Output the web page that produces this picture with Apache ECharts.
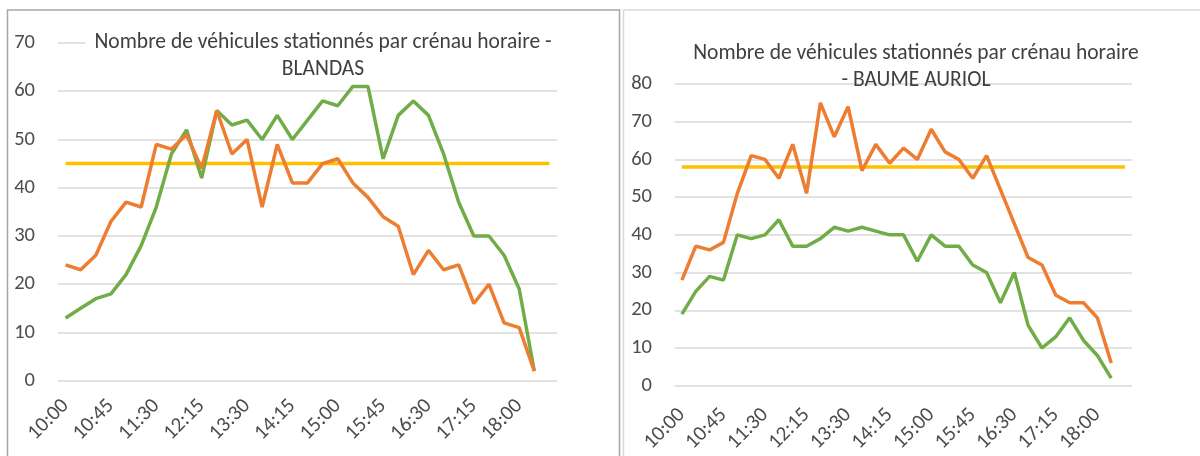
<!DOCTYPE html>
<html>
<head>
<meta charset="utf-8">
<title>Véhicules stationnés</title>
<script src="https://cdn.jsdelivr.net/npm/echarts@6/dist/echarts.min.js"></script>
<style>
  html, body { margin: 0; padding: 0; background: #fff; }
  #chart { width: 1200px; height: 456px; }
</style>
</head>
<body>
<div id="chart"></div>
<script>
// créneaux horaires (33 catégories, une étiquette sur trois)
var creneaux = ['10:00', '10:15', '10:30', '10:45', '11:00', '11:15', '11:30', '11:45', '12:00', '12:15',
  '12:30', '13:00', '13:30', '13:45', '14:00', '14:15', '14:30', '14:45', '15:00', '15:15',
  '15:30', '15:45', '16:00', '16:15', '16:30', '16:45', '17:00', '17:15', '17:30', '17:45',
  '18:00', '18:15', '18:30']

// BLANDAS
var blandasVert = [13, 15, 17, 18, 22, 28, 36, 47, 52, 42, 56, 53, 54, 50, 55, 50, 54, 58, 57, 61,
  61, 46, 55, 58, 55, 47, 37, 30, 30, 26, 19, 2]
var blandasOrange = [24, 23, 26, 33, 37, 36, 49, 48, 51, 44, 56, 47, 50, 36, 49, 41, 41, 45, 46, 41,
  38, 34, 32, 22, 27, 23, 24, 16, 20, 12, 11, 2]
var blandasCapacite = [45, 45, 45, 45, 45, 45, 45, 45, 45, 45, 45, 45, 45, 45, 45, 45, 45, 45, 45, 45,
  45, 45, 45, 45, 45, 45, 45, 45, 45, 45, 45, 45, 45]

// BAUME AURIOL
var baumeVert = [19, 25, 29, 28, 40, 39, 40, 44, 37, 37, 39, 42, 41, 42, 41, 40, 40, 33, 40, 37,
  37, 32, 30, 22, 30, 16, 10, 13, 18, 12, 8, 2]
var baumeOrange = [28, 37, 36, 38, 51, 61, 60, 55, 64, 51, 75, 66, 74, 57, 64, 59, 63, 60, 68, 62,
  60, 55, 61, 52, 43, 34, 32, 24, 22, 22, 18, 6]
var baumeCapacite = [58, 58, 58, 58, 58, 58, 58, 58, 58, 58, 58, 58, 58, 58, 58, 58, 58, 58, 58, 58,
  58, 58, 58, 58, 58, 58, 58, 58, 58, 58, 58, 58, 58]

var FONT = 'Carlito, Lato, sans-serif'
var TXT = '#4d4d4d'

function xAxe(gridIndex, margin) {
  return {
    type: 'category',
    gridIndex: gridIndex,
    data: creneaux,
    boundaryGap: true,
    axisLine: { show: false },
    axisTick: { show: false },
    axisLabel: {
      interval: 2,
      rotate: 45,
      margin: margin,
      color: TXT,
      fontFamily: FONT,
      fontSize: 21
    }
  }
}

function yAxe(gridIndex, max) {
  return {
    type: 'value',
    gridIndex: gridIndex,
    min: 0,
    max: max,
    interval: 10,
    axisLine: { show: false },
    axisTick: { show: false },
    splitLine: { lineStyle: { color: '#d9d9d9', width: 1.5 } },
    axisLabel: { margin: 23, color: TXT, fontFamily: FONT, fontSize: 20.5 }
  }
}

function ligne(nom, idx, data, color) {
  return {
    name: nom,
    type: 'line',
    xAxisIndex: idx,
    yAxisIndex: idx,
    data: data,
    symbol: 'none',
    lineStyle: { color: color, width: 3.5 },
    itemStyle: { color: color },
    emphasis: { disabled: true }
  }
}

var chart = echarts.init(document.getElementById('chart'))

var option = {
  animation: false,
  backgroundColor: '#fff',
  textStyle: { fontFamily: FONT },
  title: [
    {
      text: 'Nombre de véhicules stationnés par crénau horaire -\nBLANDAS',
      left: 314,
      top: 29.5,
      textAlign: 'center',
      z: 1,
      backgroundColor: '#fff',
      padding: [0, 9],
      textStyle: { color: '#404040', fontFamily: FONT, fontSize: 21.5, fontWeight: 'normal', lineHeight: 27 }
    },
    {
      text: 'Nombre de véhicules stationnés par crénau horaire\n- BAUME AURIOL',
      left: 916,
      top: 40,
      textAlign: 'center',
      z: 1,
      padding: 0,
      textStyle: { color: '#404040', fontFamily: FONT, fontSize: 21.5, fontWeight: 'normal', lineHeight: 27 }
    }
  ],
  grid: [
    { left: 58, top: 43, width: 499, height: 337.7 },
    { left: 675, top: 84, width: 457, height: 301.7 }
  ],
  xAxis: [xAxe(0, 22), xAxe(1, 26)],
  yAxis: [yAxe(0, 70), yAxe(1, 80)],
  series: [
    ligne('Capacité', 0, blandasCapacite, '#ffc000'),
    ligne('Relevé 1', 0, blandasVert, '#70ad47'),
    ligne('Relevé 2', 0, blandasOrange, '#ed7d31'),
    ligne('Capacité', 1, baumeCapacite, '#ffc000'),
    ligne('Relevé 1', 1, baumeVert, '#70ad47'),
    ligne('Relevé 2', 1, baumeOrange, '#ed7d31')
  ],
  graphic: [
    {
      type: 'rect',
      z: -1,
      shape: { x: 7.5, y: 10, width: 612, height: 480 },
      style: { fill: null, stroke: '#a6a6a6', lineWidth: 1.5 }
    },
    {
      type: 'rect',
      z: -1,
      shape: { x: 623.5, y: 10, width: 600, height: 480 },
      style: { fill: null, stroke: '#d9d9d9', lineWidth: 1.5 }
    }
  ]
}

chart.setOption(option)
</script>
</body>
</html>
